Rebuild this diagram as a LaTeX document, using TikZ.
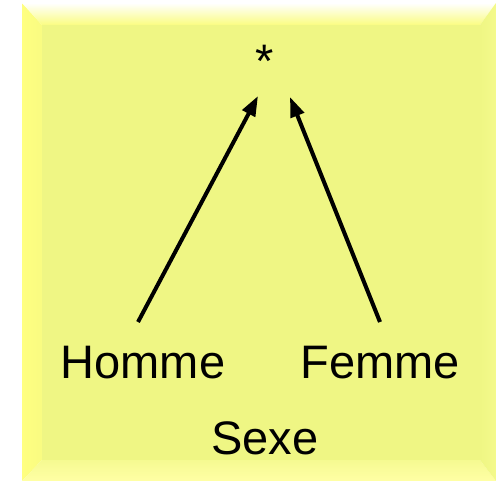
\documentclass[tikz,border=0pt]{standalone}
\usepackage{fontspec}
\setmainfont{Liberation Sans}
\usetikzlibrary{arrows.meta}
\definecolor{inner}{RGB}{239,246,132}
\definecolor{leftbev}{RGB}{255,255,128}
\definecolor{botbev}{RGB}{255,255,165}
\definecolor{rightbev}{RGB}{244,250,140}
\tikzset{
  lbl/.style={font=\fontsize{47}{52}\selectfont, inner sep=0pt, anchor=base},
  arr/.style={line width=4pt, -{Triangle[length=20pt,width=14pt]}}
}
\begin{document}
\begin{tikzpicture}[x=1pt,y=-1pt]
\useasboundingbox (0,0) rectangle (496,481);
% bevel box
\shade[left color=leftbev, right color=leftbev!60!inner] (22,3) -- (42,25) -- (42,460) -- (22,481) -- cycle;
\shade[top color=white, bottom color=leftbev!70!inner] (22,3) -- (496,3) -- (480,25) -- (42,25) -- cycle;
\shade[top color=inner!60!botbev, bottom color=botbev] (22,481) -- (42,460) -- (480,460) -- (496,481) -- cycle;
\shade[left color=inner, right color=rightbev] (496,3) -- (496,481) -- (480,460) -- (480,25) -- cycle;
\fill[inner] (42,25) rectangle (480,460);
% texts
\node[lbl] (star) at (265,78) {*};
\node[lbl] (homme) at (143,379) {Homme};
\node[lbl] (femme) at (380,379) {Femme};
\node[lbl] (sexe) at (265,454) {Sexe};
% arrows
\coordinate (hs) at (138,322);
\coordinate (ht) at (258,96);
\coordinate (fs) at (380,322);
\coordinate (ft) at (290,97);
\draw[arr] (hs) -- (ht);
\draw[arr] (fs) -- (ft);
\end{tikzpicture}
\end{document}
